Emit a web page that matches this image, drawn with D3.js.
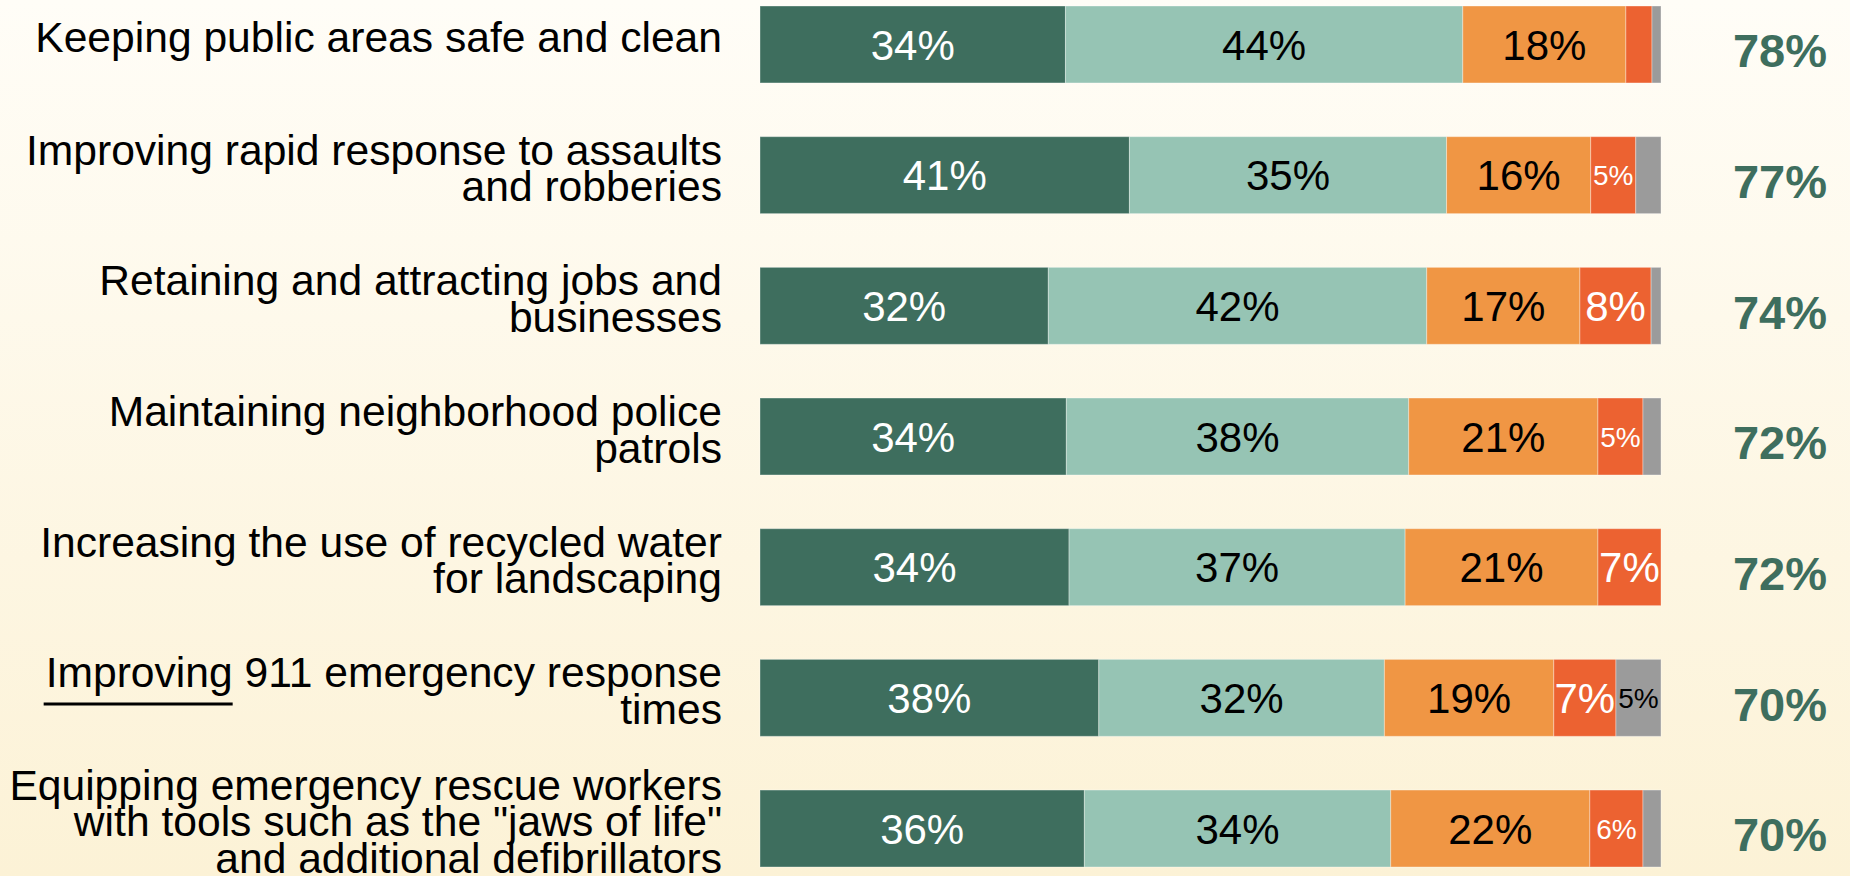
<!DOCTYPE html>
<html>
<head>
<meta charset="utf-8">
<script src="https://cdn.jsdelivr.net/npm/d3@7"></script>
<style>
  body { margin: 0; overflow: hidden; }
  svg { display: block; }
</style>
</head>
<body>
<svg id="chart"></svg>
<script>
var width = 1850
var height = 876

// category labels, one entry per line of text
var categories = [
  ["Keeping public areas safe and clean"],
  ["Improving rapid response to assaults", "and robberies"],
  ["Retaining and attracting jobs and", "businesses"],
  ["Maintaining neighborhood police", "patrols"],
  ["Increasing the use of recycled water", "for landscaping"],
  ["Improving 911 emergency response", "times"],
  ["Equipping emergency rescue workers", "with tools such as the \"jaws of life\"", "and additional defibrillators"]
]

// segment widths (percent)
var strongly = [33.9, 41.0, 32.0, 34.0, 34.3, 37.6, 36.0]
var somewhat = [44.1, 35.2, 42.0, 38.0, 37.3, 31.7, 34.0]
var notReally = [18.1, 16.0, 17.0, 21.0, 21.4, 18.8, 22.1]
var notAtAll = [2.9, 5.0, 7.9, 5.0, 7.0, 6.9, 5.9]
var dontKnow = [1.0, 2.8, 1.1, 2.0, 0.0, 5.0, 2.0]

// texts printed inside the segments ("" = no label), and the totals on the right
var stronglyLabels = ["34%", "41%", "32%", "34%", "34%", "38%", "36%"]
var somewhatLabels = ["44%", "35%", "42%", "38%", "37%", "32%", "34%"]
var notReallyLabels = ["18%", "16%", "17%", "21%", "21%", "19%", "22%"]
var notAtAllLabels = ["", "5%", "8%", "5%", "7%", "7%", "6%"]
var dontKnowLabels = ["", "", "", "", "", "5%", ""]
var totals = ["78%", "77%", "74%", "72%", "72%", "70%", "70%"]

var seriesValues = [strongly, somewhat, notReally, notAtAll, dontKnow]
var seriesLabels = [stronglyLabels, somewhatLabels, notReallyLabels, notAtAllLabels, dontKnowLabels]
var seriesColors = ["#3e6e5e", "#96c4b4", "#f09644", "#ec6231", "#9b9b9b"]
var textColors = ["#ffffff", "#000000", "#000000", "#ffffff", "#000000"]

var font = "'Liberation Sans', Arial, sans-serif"

var svg = d3.select("#chart")
  .attr("width", width)
  .attr("height", height)

// cream background fading a little toward yellow
var grad = svg.append("defs").append("linearGradient")
  .attr("id", "bg")
  .attr("x1", 0).attr("y1", 0).attr("x2", 0).attr("y2", 1)
grad.append("stop").attr("offset", "0%").attr("stop-color", "#fffdf7")
grad.append("stop").attr("offset", "100%").attr("stop-color", "#fcf2d6")

svg.append("rect")
  .attr("width", width)
  .attr("height", height)
  .attr("fill", "url(#bg)")

var rowIndex = d3.range(categories.length)

var x = d3.scaleLinear()
  .domain([0, 100])
  .range([760, 1661])

var y = d3.scaleBand()
  .domain(rowIndex)
  .range([6, 867])
  .paddingInner(0.411)
  .paddingOuter(0)

// build stacked segments [row, series, start, end, label]
var segments = []
rowIndex.forEach(function(r){
  var start = 0
  for (var s = 0; s < seriesValues.length; s++){
    var v = seriesValues[s][r]
    segments.push({row: r, series: s, x0: start, x1: start + v, label: seriesLabels[s][r]})
    start += v
  }
})

svg.append("g")
  .selectAll("rect")
  .data(segments.filter(function(d){ return d.x1 > d.x0 }))
  .enter()
  .append("rect")
    .attr("x", d => x(d.x0))
    .attr("y", d => y(d.row))
    .attr("width", d => x(d.x1) - x(d.x0))
    .attr("height", y.bandwidth())
    .attr("fill", d => seriesColors[d.series])
    .attr("stroke", "rgba(255,255,255,0.35)")
    .attr("stroke-width", 1)

// labels inside the bars; short values get the smaller type
function labelSizeFor(d){
  return (d.x1 - d.x0) < 7.5 && d.label !== "7%" ? 28 : 42
}

svg.append("g")
  .selectAll("text")
  .data(segments.filter(function(d){ return d.label !== "" }))
  .enter()
  .append("text")
    .attr("x", d => (x(d.x0) + x(d.x1)) / 2)
    .attr("y", d => y(d.row) + y.bandwidth() / 2 + labelSizeFor(d) * 0.36)
    .attr("text-anchor", "middle")
    .attr("font-family", font)
    .attr("font-size", labelSizeFor)
    .attr("fill", d => textColors[d.series])
    .text(d => d.label)

// totals on the right
svg.append("g")
  .selectAll("text")
  .data(totals)
  .enter()
  .append("text")
    .attr("x", 1780)
    .attr("y", (d, i) => y(i) + y.bandwidth() / 2 + 6 + 47 * 0.358)
    .attr("text-anchor", "middle")
    .attr("font-family", font)
    .attr("font-weight", "bold")
    .attr("font-size", 47)
    .attr("fill", "#3e6e5e")
    .text(d => d)

// category labels, right aligned against the bars
var lineHeight = 36.6
var labelSize = 42.6
var labels = svg.append("g")
  .selectAll("text")
  .data(categories)
  .enter()
  .append("text")
    .attr("font-family", font)
    .attr("font-size", labelSize)
    .attr("fill", "#000")
    .attr("text-anchor", "end")

labels.each(function(lines, i){
  var first = y(i) + y.bandwidth() / 2 - 7.5 - (lines.length - 1) * lineHeight / 2 + labelSize * 0.358
  d3.select(this).selectAll("tspan")
    .data(lines)
    .enter()
    .append("tspan")
      .attr("x", 722)
      .attr("y", (d, j) => first + j * lineHeight)
      .text(d => d)
})

// stray underline below "Improving" in the 911 label
var tspan911 = labels.filter((d, i) => i === 5).select("tspan").node()
var lineStart = tspan911.getStartPositionOfChar(0).x
var wordEnd = tspan911.getEndPositionOfChar(8).x
svg.append("line")
  .attr("x1", lineStart - 2)
  .attr("x2", wordEnd)
  .attr("y1", 704)
  .attr("y2", 704)
  .attr("stroke", "#000")
  .attr("stroke-width", 3)
</script>
</body>
</html>
